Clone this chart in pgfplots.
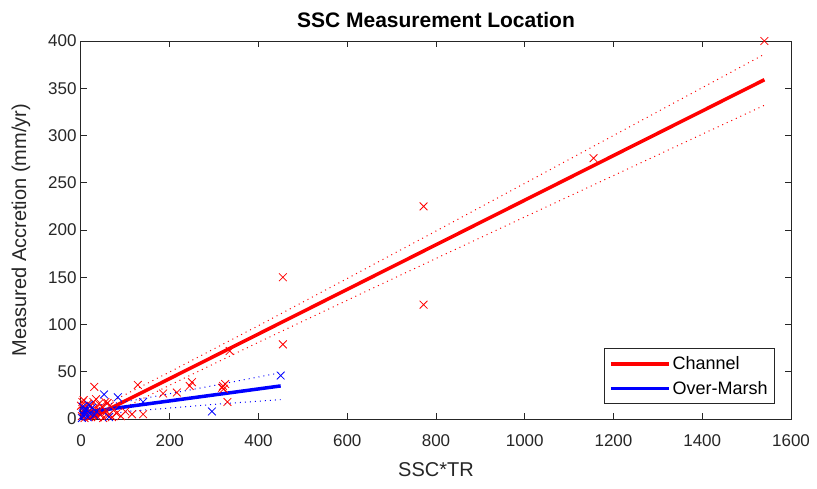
\documentclass[border=0pt]{standalone}
\usepackage{pgfplots}
\pgfplotsset{compat=1.18}
\usepackage{fontspec}
\setmainfont{Liberation Sans}
\definecolor{axgray}{rgb}{0.15,0.15,0.15}
\begin{document}
\begin{tikzpicture}
\begin{axis}[
  scale only axis, width=710bp, height=378bp,
  xmin=0, xmax=1600, ymin=0, ymax=400,
  xtick={0,200,...,1600}, ytick={0,50,...,400},
  tick align=inside, major tick length=6bp,
  axis line style={axgray, line width=1bp},
  every tick/.style={axgray, line width=1bp},
  tick label style={font=\fontsize{17bp}{20bp}\selectfont, text=axgray},
  /pgf/number format/assume math mode=true,
  /pgf/number format/set thousands separator={},
  scaled ticks=false,
  xticklabel style={yshift=-12bp},
  yticklabel style={xshift=-1bp},
  xlabel={SSC*TR}, ylabel={Measured Accretion (mm/yr)},
  label style={font=\fontsize{20bp}{24bp}\selectfont, text=axgray},
  xlabel style={yshift=-9bp},
  ylabel style={yshift=11bp},
  title={\textbf{SSC Measurement Location}},
  title style={font=\fontsize{21bp}{24bp}\selectfont, yshift=4bp},
  legend cell align=left,
  legend style={at={(1,0)}, anchor=south east, xshift=-16bp, yshift=15bp,
    font=\fontsize{18bp}{21bp}\selectfont, draw=axgray, line width=0.7bp,
    inner xsep=5bp, inner ysep=6bp, row sep=6bp},
  legend image code/.code={\draw[#1, line width=3.5bp] (0bp,0bp) -- (58bp,0bp);},
  band/.style={line width=1bp, dash pattern=on 1bp off 4bp},
  clip=true,
]
\addlegendimage{red}
\addlegendentry{Channel}
\addlegendimage{blue}
\addlegendentry{Over-Marsh}

% Channel data
\addplot[only marks, mark=x, mark size=5.5bp, red, line width=0.8bp, forget plot] coordinates {
(1540,400) (1155,276) (772,225) (772,121) (455,150) (455,79) (335,72)
(320,35) (322,32) (325,37) (318,33) (330,18) (250,39) (245,35) (216,28) (185,27)
(128,36) (140,5) (115,5) (100,8) (90,3) (80,6) (75,10) (70,2) (65,14) (62,4)
(60,17) (58,8) (55,18) (50,1) (48,13) (45,5) (42,9) (40,16) (38,2) (35,12)
(34,21) (32,7) (30,34) (28,18) (26,10) (25,4) (22,14) (20,9) (18,2) (15,16)
(12,5) (10,12) (8,1) (6,20) (5,8) (3,18) (2,3) (0,14)
};
% Over-Marsh data
\addplot[only marks, mark=x, mark size=5.5bp, blue, line width=0.8bp, forget plot] coordinates {
(450,46) (295,8) (140,18) (83,23) (52,26) (63,2) (35,8) (30,4) (25,12) (20,6)
(18,15) (15,2) (12,10) (9,7) (8,9) (5,4) (4,13) (2,1)
};
% Channel fit and bands
\addplot[red, line width=3.5bp, forget plot] coordinates {(0,-4.4) (1540,359)};
\addplot[red, band, forget plot] coordinates {
(0,2.4) (100,25.9) (200,49.8) (400,98.8) (600,148.7) (800,198.9) (1000,249.4) (1200,300.0) (1400,350.6) (1540,386.0)};
\addplot[red, band, forget plot] coordinates {
(0,-11.3) (100,12.5) (200,35.8) (400,81.2) (600,125.7) (800,169.9) (1000,213.8) (1200,257.6) (1400,301.4) (1540,332.0)};
% Over-Marsh fit and bands
\addplot[blue, line width=3.5bp, forget plot] coordinates {(0,6.5) (450,35)};
\addplot[blue, band, forget plot] coordinates {
(0,13.5) (50,15.2) (110,19.1) (200,26.8) (300,35.5) (450,49)};
\addplot[blue, band, forget plot] coordinates {
(0,-0.5) (50,4.3) (110,8.2) (200,11.6) (300,15.5) (450,20.5)};
\coordinate (ll) at (rel axis cs:0,0);
\coordinate (ur) at (rel axis cs:1,1);
\end{axis}
\pgfresetboundingbox
\path[use as bounding box] ([xshift=-81bp,yshift=-70bp]ll) rectangle ([xshift=26bp,yshift=41bp]ur);
\end{tikzpicture}
\end{document}
